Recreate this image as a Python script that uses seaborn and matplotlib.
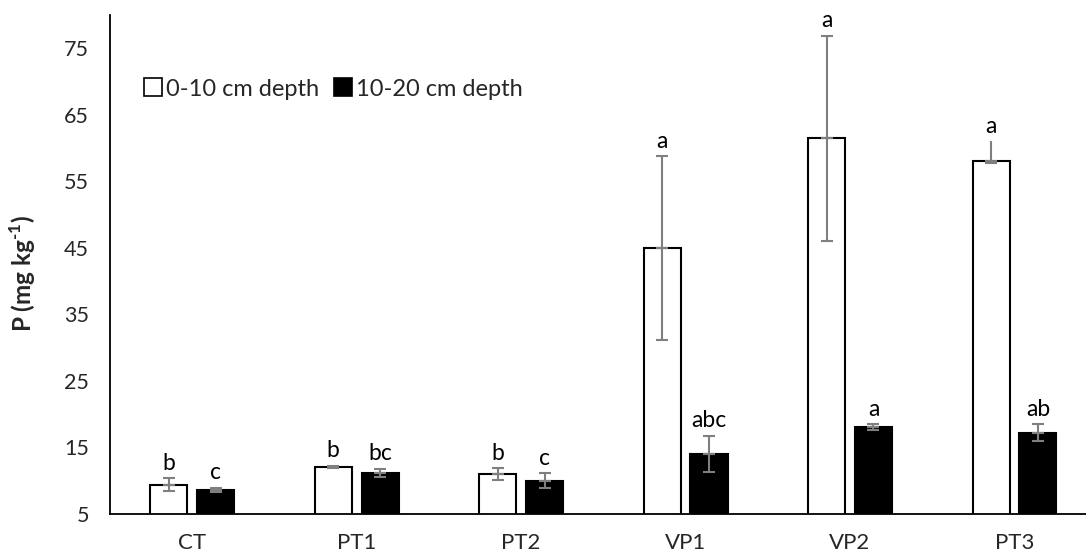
import matplotlib
matplotlib.use('Agg')
import matplotlib.pyplot as plt
import seaborn as sns
import pandas as pd
import numpy as np
from matplotlib.lines import Line2D
from matplotlib.ticker import FixedLocator, NullFormatter

# ---- data ----
treatments = ['CT', 'PT1', 'PT2', 'VP1', 'VP2', 'PT3']
depths = ['0-10 cm depth', '10-20 cm depth']
p_top = [9.4, 12.1, 11.0, 45.0, 61.5, 58.0]
p_sub = [8.65, 11.2, 10.0, 14.0, 18.1, 17.2]
err_top_lo = [1.0, 0.15, 0.85, 13.9, 15.4, 0.3]
err_top_hi = [1.0, 0.15, 0.85, 13.8, 15.4, 3.0]
err_sub = [0.3, 0.6, 1.1, 2.75, 0.4, 1.3]
upper_cap_top = [True, True, True, True, True, False]
letters_top = ['b', 'b', 'b', 'a', 'a', 'a']
letters_sub = ['c', 'bc', 'c', 'abc', 'a', 'ab']
yticks = [5, 15, 25, 35, 45, 55, 65, 75]

df = pd.DataFrame({
    'Treatment': treatments * 2,
    'Depth': [depths[0]] * len(treatments) + [depths[1]] * len(treatments),
    'P': p_top + p_sub,
})

sns.set_style('white')
plt.rcParams['font.family'] = ['Lato', 'DejaVu Sans']
plt.rcParams['mathtext.fontset'] = 'custom'
plt.rcParams['mathtext.rm'] = 'Lato:bold'
plt.rcParams['mathtext.bf'] = 'Lato:bold'

fig = plt.figure(figsize=(10.86, 5.56), dpi=100)
ax = fig.add_axes([110 / 1086, 1 - 514 / 556, 1 - 110 / 1086, (514 - 15) / 556])

sns.barplot(data=df, x='Treatment', y='P', hue='Depth', order=treatments,
            hue_order=depths, palette=['white', 'black'], edgecolor='black',
            linewidth=1.5, width=0.57, gap=0.21, errorbar=None, ax=ax,
            legend=False)

ecol = '#7f7f7f'
for ci, cont in enumerate(ax.containers[:2]):
    for i, bar in enumerate(cont):
        xc = bar.get_x() + bar.get_width() / 2
        h = bar.get_height()
        if ci == 0:
            lo, hi, lab = err_top_lo[i], err_top_hi[i], letters_top[i]
            cap_hi = upper_cap_top[i]
        else:
            lo, hi, lab = err_sub[i], err_sub[i], letters_sub[i]
            cap_hi = True
        ax.errorbar([xc], [h], yerr=[[lo], [0]], fmt='none', ecolor=ecol,
                    elinewidth=1.5, capsize=4, capthick=1.5, zorder=5)
        ax.errorbar([xc], [h], yerr=[[0], [hi]], fmt='none', ecolor=ecol,
                    elinewidth=1.5, capsize=4 if cap_hi else 0, capthick=1.5,
                    zorder=5)
        ax.annotate(lab, (xc, h + hi), xytext=(0, 6), textcoords='offset points',
                    ha='center', va='baseline', fontsize=16.5, color='black')

ax.set_ylim(5, 80)
ax.set_xlim(-0.5, 5.435)
ax.set_yticks(yticks)
ax.set_yticklabels([str(t) for t in yticks], fontsize=15.5)
ax.xaxis.set_minor_locator(FixedLocator(np.arange(-0.5, 5.0, 1.0)))
ax.xaxis.set_minor_formatter(NullFormatter())
ax.tick_params(axis='x', which='major', length=0, pad=14, labelsize=16)
ax.tick_params(axis='x', which='minor', length=7, width=1.2, direction='out', color='black')
ax.tick_params(axis='y', which='major', length=7, width=1.2, direction='out', color='black', pad=8)
ax.set_xlabel('')
ax.set_ylabel(r'P (mg kg$^{\text{-}1}$)', fontsize=17.5, fontweight='bold')
ax.yaxis.set_label_coords(-0.074, 0.482)

for s in ['top', 'right']:
    ax.spines[s].set_visible(False)
for s in ['left', 'bottom']:
    ax.spines[s].set_color('black')
    ax.spines[s].set_linewidth(1.3)

handles = [Line2D([0], [0], marker='s', linestyle='none', markersize=13,
                  markerfacecolor=c, markeredgecolor='black', markeredgewidth=1.2)
           for c in ['white', 'black']]
fig.legend(handles, depths, loc='center left', bbox_to_anchor=(141 / 1086, 1 - 89 / 556),
           ncol=2, frameon=False, fontsize=17, handletextpad=0.05,
           columnspacing=0.5, handlelength=1.0, borderpad=0, borderaxespad=0)

fig.savefig('out.png', dpi=100)
